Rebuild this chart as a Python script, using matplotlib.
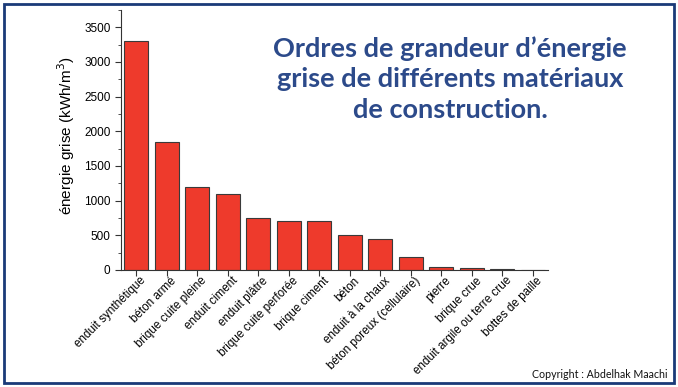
import matplotlib
matplotlib.use("Agg")
import matplotlib.pyplot as plt
from matplotlib.patches import Rectangle
from matplotlib.ticker import MultipleLocator
from matplotlib.transforms import ScaledTranslation

categories = ["enduit synthétique", "béton armé", "brique cuite pleine", "enduit ciment",
              "enduit plâtre", "brique cuite perforée", "brique ciment", "béton",
              "enduit à la chaux", "béton poreux (cellulaire)", "pierre", "brique crue",
              "enduit argile ou terre crue", "bottes de paille"]
values = [3300, 1850, 1200, 1100, 750, 700, 700, 500, 450, 190, 50, 35, 15, 5]

title_lines = "Ordres de grandeur d’énergie\ngrise de différents matériaux\nde construction."
ylabel = "énergie grise (kWh/m$^3$)"
copyright_text = "Copyright : Abdelhak Maachi"

W, H = 678, 387
fig = plt.figure(figsize=(W/100, H/100), dpi=100)
fig.patch.set_facecolor("white")

# frame
fig.add_artist(Rectangle((4/W, 4/H), (W-8)/W, (H-8)/H, transform=fig.transFigure,
                         fill=False, edgecolor="#1a3a78", linewidth=2.0))

ax = fig.add_axes([121/W, 117/H, (548-121)/W, (377-117)/H])
x = list(range(len(categories)))
ax.bar(x, values, width=0.8, color="#ee3a2c", edgecolor="#3a3a3a", linewidth=0.8)
ax.set_xlim(-0.5, len(categories) - 0.5)
ax.set_ylim(0, 3750)
ax.yaxis.set_major_locator(MultipleLocator(500))
ax.yaxis.set_minor_locator(MultipleLocator(250))
ax.set_yticks([0, 500, 1000, 1500, 2000, 2500, 3000, 3500])
ax.set_xticks(x)
ax.set_xticklabels([])
offset = ScaledTranslation(8/100, -9/100, fig.dpi_scale_trans)
tr = ax.get_xaxis_transform() + offset
for xi, name in zip(x, categories):
    ax.text(xi, 0, name, transform=tr, rotation=45, ha="right", va="center",
            rotation_mode="anchor", fontsize=8.4, family="Liberation Sans", clip_on=False)
for lab in ax.get_yticklabels():
    lab.set_fontsize(8.5)
    lab.set_family("Liberation Sans")
ax.spines["top"].set_visible(False)
ax.spines["right"].set_visible(False)
ax.spines["left"].set_color("#333333")
ax.spines["bottom"].set_color("#333333")
ax.tick_params(axis="both", which="major", direction="out", length=4, color="#333333")
ax.tick_params(axis="y", which="minor", direction="out", length=2.5, color="#333333")
ax.set_ylabel(ylabel, fontsize=11, family="Liberation Sans")
ax.yaxis.set_label_coords((77 - 121) / 427, 0.515)

fig.text(450/W, 1 - 79/H, title_lines, ha="center", va="center", fontsize=19.5,
         fontweight="bold", color="#2c4a8a", family="Lato", linespacing=1.31)
fig.text(668/W, 1 - 374/H, copyright_text, ha="right", va="center", fontsize=7.7,
         color="#111111", family="Lato")

fig.savefig("out.png", dpi=100, facecolor="white")
